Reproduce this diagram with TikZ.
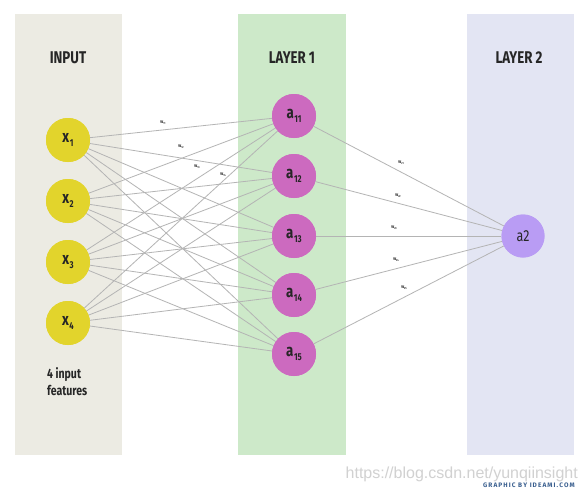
\documentclass[tikz,border=0pt]{standalone}
\usepackage{fontspec}
\setmainfont{Fira Sans}
\newfontfamily\cond[FakeStretch=0.78]{Fira Sans}
\newfontfamily\wm{Liberation Sans}
\definecolor{bandin}{HTML}{ECEBE3}
\definecolor{bandone}{HTML}{CDE9C9}
\definecolor{bandtwo}{HTML}{E3E5F3}
\definecolor{nyellow}{HTML}{E2D42C}
\definecolor{npink}{HTML}{CC6ABF}
\definecolor{npurple}{HTML}{B99CF4}
\definecolor{edgec}{HTML}{B4B4B4}
\definecolor{credit}{HTML}{3A5F8F}
\newcommand{\lbl}[2]{#1\hspace{0.6pt}\raisebox{-4pt}{\fontsize{10}{10}\selectfont #2}}
\newcommand{\wl}[1]{w\raisebox{-1.2pt}{\fontsize{3}{3}\selectfont #1}}
\begin{document}
\begin{tikzpicture}[x=1pt,y=-1pt,
  title/.style={font=\cond\bfseries\fontsize{17}{17}\selectfont, text=black!85},
  neuron/.style={circle, minimum size=44pt, inner sep=0pt, font=\cond\bfseries\fontsize{17}{17}\selectfont, text=black!85},
  inn/.style={neuron, fill=nyellow},
  hid/.style={neuron, fill=npink},
  outn/.style={neuron, fill=npurple, minimum size=43pt, font=\cond\fontsize{16}{16}\selectfont},
  conn/.style={draw=edgec, line width=0.8pt},
  wlab/.style={font=\cond\bfseries\fontsize{5}{5}\selectfont, inner sep=0pt, text=black!80}
]
\useasboundingbox[fill=white] (0,0) rectangle (588,495);
\fill[bandin] (15,14) rectangle (122,455);
\fill[bandone] (238,14) rectangle (346,455);
\fill[bandtwo] (467,14) rectangle (574,455);
\node[title] (tin) at (68,58) {INPUT};
\node[title] (tone) at (292,58) {LAYER 1};
\node[title] (ttwo) at (519,58) {LAYER 2};
\node[inn] (x1) at (68,140) {};
\node[inn] (x2) at (68,201) {};
\node[inn] (x3) at (68,262) {};
\node[inn] (x4) at (68,323) {};
\node[hid] (a11) at (294,116) {};
\node[hid] (a12) at (294,176) {};
\node[hid] (a13) at (294,236) {};
\node[hid] (a14) at (294,295) {};
\node[hid] (a15) at (294,354) {};
\node[outn] (a2) at (523,236) {};
\foreach \i in {1,2,3,4}{
  \foreach \j in {11,12,13,14,15}{
    \draw[conn] (x\i) -- (a\j);
  }
}
\foreach \j in {11,12,13,14,15}{
  \draw[conn] (a\j) -- (a2);
}
\node[inn] at (x1) {\lbl{x}{1}};
\node[inn] at (x2) {\lbl{x}{2}};
\node[inn] at (x3) {\lbl{x}{3}};
\node[inn] at (x4) {\lbl{x}{4}};
\node[hid] at (a11) {\lbl{a}{11}};
\node[hid] at (a12) {\lbl{a}{12}};
\node[hid] at (a13) {\lbl{a}{13}};
\node[hid] at (a14) {\lbl{a}{14}};
\node[hid] at (a15) {\lbl{a}{15}};
\node[outn] at (a2) {a2};
\node[wlab] (w11) at (163,123) {\wl{11}};
\node[wlab] (w12) at (181,147) {\wl{12}};
\node[wlab] (w13) at (197,167) {\wl{13}};
\node[wlab] (w14) at (223,175) {\wl{14}};
\node[wlab] (w21) at (401,163) {\wl{21}};
\node[wlab] (w22) at (398,196) {\wl{22}};
\node[wlab] (w23) at (394,228) {\wl{23}};
\node[wlab] (w24) at (396,260) {\wl{24}};
\node[wlab] (w25) at (404,288) {\wl{25}};
\node[font=\cond\bfseries\fontsize{13.5}{17}\selectfont, align=left, anchor=north west, inner sep=0pt, text=black!85] (feat) at (47,367) {4 input\\features};
\node[font=\wm\fontsize{16}{16}\selectfont, text=black!18, anchor=east, inner sep=0pt] (wmk) at (578,474) {https://blog.csdn.net/yunqiinsight};
\node[font=\bfseries\fontsize{6.5}{6.5}\selectfont, text=credit, anchor=east, inner sep=0pt] (cred) at (575,485) {G\,R\,A\,P\,H\,I\,C\ \,B\,Y\ \,I\,D\,E\,A\,M\,I\,.\,C\,O\,M};
\end{tikzpicture}
\end{document}
